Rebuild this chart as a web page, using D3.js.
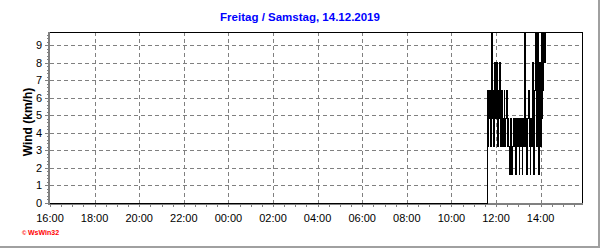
<!DOCTYPE html>
<html>
<head>
<meta charset="utf-8">
<script src="https://cdn.jsdelivr.net/npm/d3@7"></script>
<style>
body { margin: 0; background: #fff; }
svg { display: block; font-family: "Liberation Sans", Arial, sans-serif; }
</style>
</head>
<body>
<svg id="chart" width="600" height="248"></svg>
<script>
var titleText = "Freitag / Samstag, 14.12.2019";
var yTitle = "Wind (km/h)";
var yTicks = [0, 1, 2, 3, 4, 5, 6, 7, 8, 9];
var xTickLabels = ["16:00", "18:00", "20:00", "22:00", "00:00", "02:00", "04:00",
    "06:00", "08:00", "10:00", "12:00", "14:00"];

// time range of the plot
var rangeStart = "2019-12-13 16:00";
var rangeEnd = "2019-12-14 15:50";

// calm part, then the gusty samples every 2 minutes
var calmStart = "2019-12-13 16:00";
var calmValue = 0;
var gustStart = "2019-12-14 11:36";
var gustStepMin = 2;
var gustValues = [
    6.4, 3.2, 6.4, 4.8, 6.4, 3.2,   // 11:36
    9.7, 4.8, 6.4, 3.2, 8.0, 4.8,   // 11:48
    6.4, 8.0, 3.2, 6.4, 4.8, 8.0,   // 12:00
    3.2, 4.8, 6.4, 3.2, 4.8, 6.4,   // 12:12
    3.2, 4.8, 6.4, 3.2, 4.8, 3.2,   // 12:24
    1.6, 3.2, 4.8, 1.6, 3.2, 4.8,   // 12:36
    3.2, 4.8, 1.6, 3.2, 4.8, 3.2,   // 12:48
    4.8, 1.6, 3.2, 4.8, 3.2, 1.6,   // 13:00
    4.8, 3.2, 9.7, 3.2, 4.8, 1.6,   // 13:12
    3.2, 4.8, 6.4, 3.2, 1.6, 4.8,   // 13:24
    3.2, 8.0, 4.8, 1.6, 6.4, 9.7,   // 13:36
    4.8, 3.2, 9.7, 1.6, 6.4, 8.0,   // 13:48
    3.2, 9.7, 4.8, 6.4, 9.7, 8.0,   // 14:00
    9.7, 9.7                        // 14:12
];
var lastTime = "2019-12-14 15:50";
var lastValue = 9.7;

var parse = d3.timeParse("%Y-%m-%d %H:%M");

var points = [{ t: parse(calmStart), v: calmValue }];
var g0 = parse(gustStart);
for (var i = 0; i < gustValues.length; i++) {
    points.push({ t: d3.timeMinute.offset(g0, i * gustStepMin), v: gustValues[i] });
}
points.push({ t: parse(lastTime), v: lastValue });

var pLeft = 50, pRight = 581.5, pTop = 32, pBottom = 203;

var x = d3.scaleTime()
    .domain([parse(rangeStart), parse(rangeEnd)])
    .range([pLeft, pRight]);

var y = d3.scaleLinear()
    .domain([0, 9.75])
    .range([pBottom, pTop]);

var svg = d3.select("#chart");

// outer frame (right and bottom edge)
svg.append("rect").attr("x", 598).attr("y", 0).attr("width", 2).attr("height", 248).attr("fill", "#a0a0a0");
svg.append("rect").attr("x", 0).attr("y", 246).attr("width", 600).attr("height", 2).attr("fill", "#a0a0a0");

// title
svg.append("text")
    .attr("x", 300)
    .attr("y", 21)
    .attr("text-anchor", "middle")
    .attr("fill", "#0000ff")
    .attr("font-weight", "bold")
    .attr("font-size", 11.5)
    .text(titleText);

// grid
var grid = svg.append("g").attr("shape-rendering", "crispEdges");
var hourTicks = x.ticks(d3.timeHour.every(2));

grid.selectAll(".vg")
    .data(hourTicks.slice(1))
    .enter().append("line")
    .attr("x1", function(d) { return Math.round(x(d)) + 0.5; })
    .attr("x2", function(d) { return Math.round(x(d)) + 0.5; })
    .attr("y1", pTop)
    .attr("y2", pBottom)
    .attr("stroke", "#808080")
    .attr("stroke-dasharray", "4,3");

grid.selectAll(".hg")
    .data(yTicks.slice(1))
    .enter().append("line")
    .attr("x1", pLeft)
    .attr("x2", pRight)
    .attr("y1", function(d) { return Math.round(y(d)) + 0.5; })
    .attr("y2", function(d) { return Math.round(y(d)) + 0.5; })
    .attr("stroke", "#808080")
    .attr("stroke-dasharray", "4,3");

// top and right border
grid.append("line").attr("x1", pLeft - 1).attr("x2", pRight + 0.5).attr("y1", pTop + 0.5).attr("y2", pTop + 0.5)
    .attr("stroke", "#000");
grid.append("line").attr("x1", pRight + 0.5).attr("x2", pRight + 0.5).attr("y1", pTop).attr("y2", pBottom + 1)
    .attr("stroke", "#000");

// y axis
var yAxis = svg.append("g").attr("shape-rendering", "crispEdges");
yAxis.selectAll(".ym")
    .data(d3.range(0, 9.75, 0.2))
    .enter().append("line")
    .attr("x1", pLeft - 3)
    .attr("x2", pLeft - 1)
    .attr("y1", function(d) { return Math.round(y(d)) + 0.5; })
    .attr("y2", function(d) { return Math.round(y(d)) + 0.5; })
    .attr("stroke", "#808080");
yAxis.selectAll(".yt")
    .data(yTicks)
    .enter().append("line")
    .attr("x1", pLeft - 5)
    .attr("x2", pLeft + 1)
    .attr("y1", function(d) { return Math.round(y(d)) + 0.5; })
    .attr("y2", function(d) { return Math.round(y(d)) + 0.5; })
    .attr("stroke", "#808080");
yAxis.append("rect").attr("x", pLeft - 2).attr("y", pTop).attr("width", 2).attr("height", pBottom - pTop + 2)
    .attr("fill", "#808080");
yAxis.selectAll("text")
    .data(yTicks)
    .enter().append("text")
    .attr("x", pLeft - 8)
    .attr("y", function(d) { return y(d) + 4; })
    .attr("text-anchor", "end")
    .attr("font-size", 11)
    .attr("fill", "#000")
    .text(function(d) { return d; });

svg.append("text")
    .attr("transform", "translate(32," + 122 + ") rotate(-90)")
    .attr("text-anchor", "middle")
    .attr("font-weight", "bold")
    .attr("font-size", 12)
    .text(yTitle);

// x axis
var xAxis = svg.append("g").attr("shape-rendering", "crispEdges");
xAxis.selectAll(".xm")
    .data(x.ticks(d3.timeMinute.every(30)))
    .enter().append("line")
    .attr("x1", function(d) { return Math.round(x(d)) + 0.5; })
    .attr("x2", function(d) { return Math.round(x(d)) + 0.5; })
    .attr("y1", pBottom + 1)
    .attr("y2", pBottom + 4)
    .attr("stroke", "#808080");
xAxis.append("rect").attr("x", pLeft - 2).attr("y", pBottom).attr("width", pRight - pLeft + 3).attr("height", 2)
    .attr("fill", "#808080");
xAxis.selectAll("text")
    .data(hourTicks)
    .enter().append("text")
    .attr("x", function(d) { return x(d); })
    .attr("y", 222)
    .attr("text-anchor", "middle")
    .attr("font-size", 11)
    .text(function(d, i) { return xTickLabels[i]; });

// wind line
var line = d3.line()
    .x(function(d) { return x(d.t); })
    .y(function(d) { return y(d.v); })
    .curve(d3.curveStepAfter);

svg.append("path")
    .datum(points)
    .attr("d", line)
    .attr("fill", "none")
    .attr("stroke", "#000")
    .attr("stroke-width", 1)
    .attr("shape-rendering", "crispEdges");

// copyright mark
var mark = svg.append("g").attr("fill", "#ff0000").attr("font-weight", "bold");
mark.append("text")
    .attr("x", 22)
    .attr("y", 235)
    .attr("font-size", 6)
    .text("\u00a9");
mark.append("text")
    .attr("x", 28)
    .attr("y", 235)
    .attr("font-size", 7)
    .text("WsWin32");
</script>
</body>
</html>
